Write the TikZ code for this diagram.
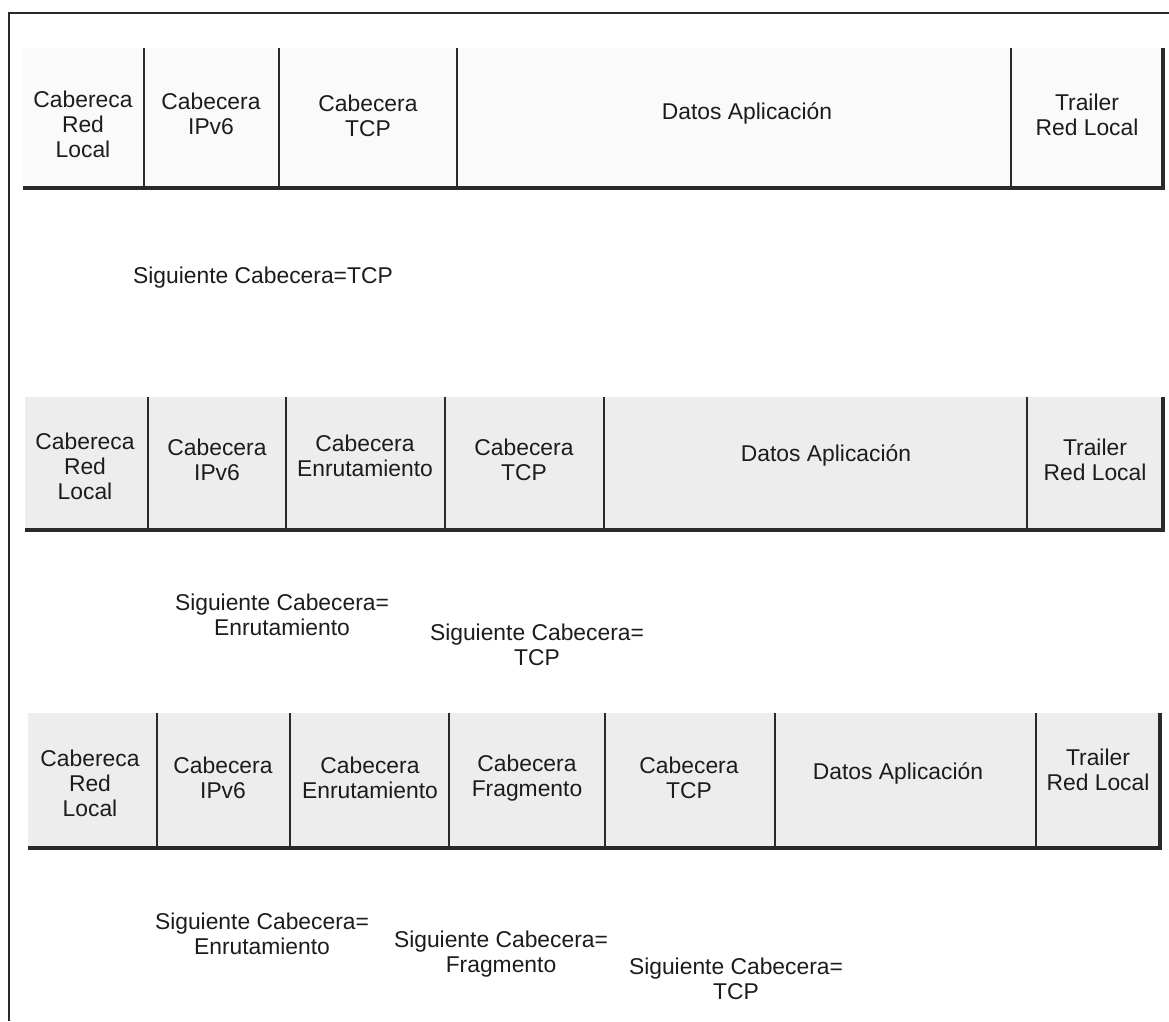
\documentclass[tikz,border=0pt]{standalone}
\usepackage{fontspec}
\setmainfont{Liberation Sans}
\definecolor{ink}{HTML}{1C1C1C}
\definecolor{rule}{HTML}{2A2A2A}
\tikzset{
  cell/.style={align=center, inner sep=0pt, text=ink,
    font=\fontsize{13}{14.2}\selectfont},
  divider/.style={draw=rule, line width=0.8pt},
  baseline rule/.style={draw=rule, line width=2.2pt, line join=miter},
  frame/.style={draw=rule, line width=1.4pt},
  shade1/.style={fill=black!2},
  shade2/.style={fill=black!7},
}
\begin{document}
\begin{tikzpicture}[x=0.02cm, y=-0.02cm]
  \useasboundingbox (0,0) rectangle (1169,1021);
  \fill[white] (0,0) rectangle (1169,1021);

  % outer frame (top and left only)
  \draw[frame] (1169,13) -- (9,13) -- (9,1021);

  % ---------- frame 1: Red Local | IPv6 | TCP | Datos | Trailer ----------
  \fill[shade1] (23,48) rectangle (1163,188);
  \foreach \x in {144,279,457,1011} \draw[divider] (\x,48) -- (\x,188);
  \draw[baseline rule] (23,188) -- (1163,188) -- (1163,48);
  \node[cell] (r1a) at (83,124)  {Cabereca\\Red\\Local};
  \node[cell] (r1b) at (211,114) {Cabecera\\IPv6};
  \node[cell] (r1c) at (368,116) {Cabecera\\TCP};
  \node[cell] (r1d) at (747,113) {Datos Aplicación};
  \node[cell] (r1e) at (1087,115) {Trailer\\Red Local};
  \node[cell] (n1) at (263,278) {Siguiente Cabecera=TCP};

  % ---------- frame 2: adds the routing header ----------
  \fill[shade2] (25,397) rectangle (1163,530);
  \foreach \x in {148,286,445,604,1027} \draw[divider] (\x,397) -- (\x,530);
  \draw[baseline rule] (25,530) -- (1163,530) -- (1163,397);
  \node[cell] (r2a) at (85,466)  {Cabereca\\Red\\Local};
  \node[cell] (r2b) at (217,460) {Cabecera\\IPv6};
  \node[cell] (r2c) at (365,456) {Cabecera\\Enrutamiento};
  \node[cell] (r2d) at (524,460) {Cabecera\\TCP};
  \node[cell] (r2e) at (826,455) {Datos Aplicación};
  \node[cell] (r2f) at (1095,460) {Trailer\\Red Local};
  \node[cell] (n2a) at (282,615) {Siguiente Cabecera=\\Enrutamiento};
  \node[cell] (n2b) at (537,645) {Siguiente Cabecera=\\TCP};

  % ---------- frame 3: routing and fragment headers ----------
  \fill[shade2] (28,713) rectangle (1160,848);
  \foreach \x in {157,290,449,605,775,1036} \draw[divider] (\x,713) -- (\x,848);
  \draw[baseline rule] (28,848) -- (1160,848) -- (1160,713);
  \node[cell] (r3a) at (90,783)  {Cabereca\\Red\\Local};
  \node[cell] (r3b) at (223,778) {Cabecera\\IPv6};
  \node[cell] (r3c) at (370,778) {Cabecera\\Enrutamiento};
  \node[cell] (r3d) at (527,778) {Cabecera\\Fragmento};
  \node[cell] (r3e) at (689,778) {Cabecera\\TCP};
  \node[cell] (r3f) at (898,773) {Datos Aplicación};
  \node[cell] (r3g) at (1098,770) {Trailer\\Red Local};
  \node[cell] (n3a) at (262,934) {Siguiente Cabecera=\\Enrutamiento};
  \node[cell] (n3b) at (501,954) {Siguiente Cabecera=\\Fragmento};
  \node[cell] (n3c) at (736,979) {Siguiente Cabecera=\\TCP};
\end{tikzpicture}
\end{document}
